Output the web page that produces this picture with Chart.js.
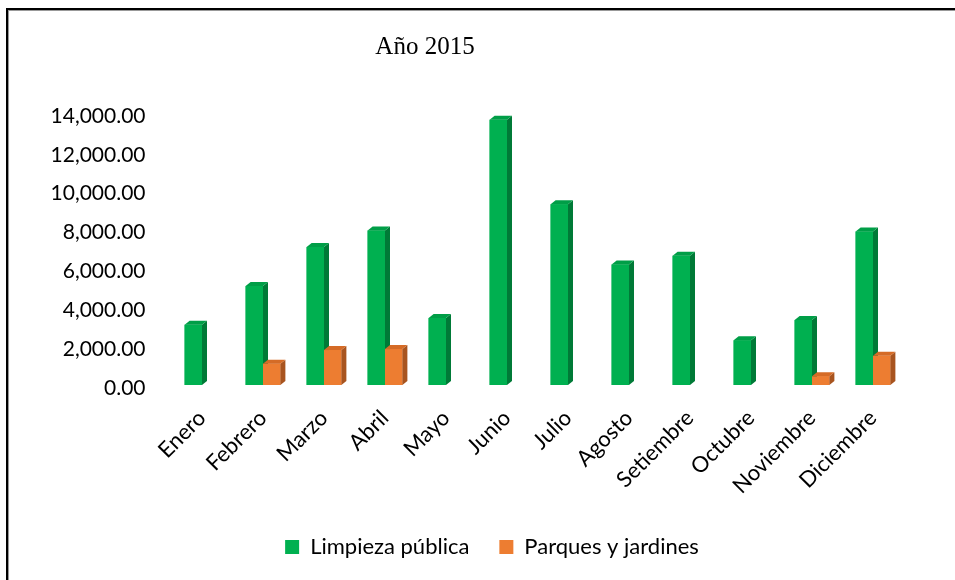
<!DOCTYPE html>
<html>
<head>
<meta charset="utf-8">
<script src="https://cdn.jsdelivr.net/npm/chart.js@4.4.1/dist/chart.umd.min.js"></script>
<style>
  html, body { margin: 0; padding: 0; background: #fff; }
  #wrap { width: 955px; height: 580px; }
</style>
</head>
<body>
<div id="wrap"><canvas id="chart"></canvas></div>
<script>
// Data
const months = ['Enero', 'Febrero', 'Marzo', 'Abril', 'Mayo', 'Junio', 'Julio',
    'Agosto', 'Setiembre', 'Octubre', 'Noviembre', 'Diciembre'];
const limpiezaPublica = [3100, 5100, 7100, 7950, 3450, 13650, 9300, 6200, 6650, 2300, 3350, 7900];
const parquesJardines = [null, 1100, 1800, 1850, null, null, null, null, null, null, 450, 1500];
const yTicks = [0, 2000, 4000, 6000, 8000, 10000, 12000, 14000];

// Colors for the front, side and top faces of each series
const frontColors = ['#00b050', '#ed7d31'];
const sideColors = ['#007a37', '#a8541f'];
const topColors = ['#009e47', '#d56b26'];

const depthX = 5;
const depthY = 4;

const fmt = new Intl.NumberFormat('en-US', { minimumFractionDigits: 2, maximumFractionDigits: 2 });

// Redraw the bars dataset by dataset with a side and top face so they look 3D
const bar3d = {
    id: 'bar3d',
    afterDatasetsDraw(chart) {
        const ctx = chart.ctx;
        ctx.save();
        chart.data.datasets.forEach((ds, di) => {
            const meta = chart.getDatasetMeta(di);
            meta.data.forEach((bar, i) => {
                if (!ds.data[i]) return;
                bar.draw(ctx);
                const { x, y, base, width } = bar.getProps(['x', 'y', 'base', 'width'], true);
                const l = x - width / 2;
                const r = x + width / 2;
                ctx.fillStyle = sideColors[di];
                ctx.beginPath();
                ctx.moveTo(r, y);
                ctx.lineTo(r + depthX, y - depthY);
                ctx.lineTo(r + depthX, base - depthY);
                ctx.lineTo(r, base);
                ctx.closePath();
                ctx.fill();
                ctx.fillStyle = topColors[di];
                ctx.beginPath();
                ctx.moveTo(l, y);
                ctx.lineTo(l + depthX, y - depthY);
                ctx.lineTo(r + depthX, y - depthY);
                ctx.lineTo(r, y);
                ctx.closePath();
                ctx.fill();
            });
        });
        ctx.restore();
    }
};

// Frame lines and the chart title
const frame = {
    id: 'frame',
    beforeDraw(chart) {
        const ctx = chart.ctx;
        ctx.save();
        ctx.fillStyle = '#fff';
        ctx.fillRect(0, 0, chart.width, chart.height);
        ctx.fillStyle = '#000';
        ctx.fillRect(6, 8, 2, chart.height - 8);
        ctx.fillRect(6, 8, chart.width - 6, 2);
        ctx.fillStyle = '#999';
        ctx.fillRect(8, 10, 1, chart.height - 10);
        ctx.fillRect(8, 10, chart.width - 8, 1);
        ctx.restore();
    },
    afterDraw(chart) {
        const ctx = chart.ctx;
        ctx.save();
        ctx.fillStyle = '#000';
        ctx.font = '25px "Liberation Serif", "Times New Roman", serif';
        ctx.textAlign = 'center';
        ctx.textBaseline = 'alphabetic';
        ctx.fillText('Año 2015', 425, 54);
        ctx.restore();
    }
};

const ctx = document.getElementById('chart').getContext('2d');
const chart = new Chart(ctx, {
    type: 'bar',
    data: {
        labels: months,
        datasets: [{
            label: 'Limpieza pública',
            data: limpiezaPublica,
            backgroundColor: frontColors[0],
            borderWidth: 0
        }, {
            label: 'Parques y jardines',
            data: parquesJardines,
            backgroundColor: frontColors[1],
            borderWidth: 0
        }]
    },
    options: {
        responsive: true,
        maintainAspectRatio: false,
        animation: false,
        categoryPercentage: 0.57,
        barPercentage: 1,
        layout: {
            padding: { left: 29, right: 0, top: 113, bottom: 12 }
        },
        plugins: {
            title: { display: false },
            tooltip: { enabled: false },
            legend: {
                position: 'bottom',
                labels: {
                    boxWidth: 14,
                    boxHeight: 14,
                    padding: 30,
                    color: '#000',
                    font: { family: 'Lato', size: 22 },
                    sort: (a, b) => a.datasetIndex - b.datasetIndex
                }
            }
        },
        scales: {
            x: {
                grid: { display: false, drawTicks: false },
                border: { display: false },
                ticks: {
                    color: '#000',
                    font: { family: 'Lato', size: 22 },
                    maxRotation: 45,
                    minRotation: 45,
                    padding: 20
                },
                afterFit: (scale) => { scale.height = 121; }
            },
            y: {
                min: 0,
                max: 14000,
                grid: { display: false, drawTicks: false },
                border: { display: false },
                afterBuildTicks: (scale) => { scale.ticks = yTicks.map(v => ({ value: v })); },
                ticks: {
                    color: '#000',
                    font: { family: 'Lato', size: 21 },
                    padding: 26,
                    labelOffset: 3,
                    callback: (v) => fmt.format(v)
                },
                afterFit: (scale) => { scale.width = 142.5; }
            },
            // empty right-hand axis that only reserves the margin right of the bars
            yRight: {
                position: 'right',
                grid: { display: false, drawTicks: false },
                border: { display: false },
                ticks: { display: false },
                afterFit: (scale) => { scale.width = 51.5; }
            }
        }
    },
    plugins: [frame, bar3d]
});
</script>
</body>
</html>
